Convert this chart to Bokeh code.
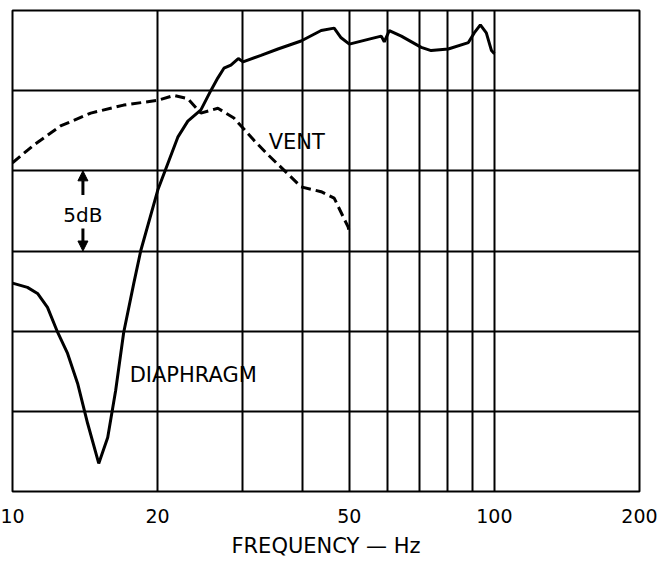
from bokeh.plotting import figure
from bokeh.models import Range1d, FixedTicker, Arrow, NormalHead
from bokeh.core.properties import value
from bokeh.embed import file_html
from bokeh.resources import INLINE

# ---- data ----
diaphragm_f = [10.0, 10.74, 11.27, 11.82, 12.41, 13.01, 13.65, 14.32, 15.1, 15.76, 16.37, 17.01,
               17.85, 18.46, 20.02, 22.03, 23.11, 24.6, 25.79, 26.68, 27.46, 28.39, 29.41, 30.08,
               32.78, 35.55, 39.7, 43.7, 46.5, 48.07, 50.0, 54.7, 58.24, 59.08, 60.51, 64.09,
               70.5, 73.9, 80.2, 88.3, 90.8, 93.5, 96.2, 98.6, 100.0]
diaphragm_db = [13.0, 12.73, 12.35, 11.48, 9.92, 8.61, 6.74, 4.24, 1.75, 3.37, 6.3, 9.92,
                12.98, 15.03, 18.8, 22.1, 23.1, 23.8, 25.0, 25.8, 26.4, 26.6, 27.0, 26.8,
                27.2, 27.6, 28.1, 28.75, 28.9, 28.3, 27.9, 28.2, 28.4, 28.05, 28.75, 28.4,
                27.7, 27.5, 27.6, 28.0, 28.6, 29.1, 28.6, 27.5, 27.3]

vent_f = [10.0, 11.06, 12.58, 14.53, 17.01, 20.02, 21.61, 23.11, 24.6, 26.68, 28.8,
          31.7, 33.9, 37.3, 39.7, 43.7, 46.5, 49.7, 50.0]
vent_db = [20.5, 21.6, 22.8, 23.6, 24.1, 24.4, 24.7, 24.5, 23.6, 23.9, 23.3,
           21.9, 21.0, 19.8, 19.0, 18.7, 18.3, 16.5, 16.2]

x_grid = [10, 20, 30, 40, 50, 60, 70, 80, 90, 100, 200]
y_grid = [0, 5, 10, 15, 20, 25, 30]
x_tick_labels = {10: "10", 20: "20", 50: "50", 100: "100", 200: "200"}

FONT = "DejaVu Sans"

p = figure(frame_width=627, frame_height=481, x_axis_type="log",
           x_range=Range1d(10, 200), y_range=Range1d(0, 30),
           output_backend="svg", toolbar_location=None, y_axis_location=None,
           min_border_left=12, min_border_top=10, min_border_right=23, min_border_bottom=70)
p.background_fill_color = "white"
p.border_fill_color = "white"
p.outline_line_color = "black"
p.outline_line_width = 2

p.xgrid.ticker = FixedTicker(ticks=x_grid)
p.ygrid.ticker = FixedTicker(ticks=y_grid)
for g in (p.xgrid, p.ygrid):
    g.grid_line_color = "black"
    g.grid_line_width = 2
    g.grid_line_alpha = 1.0

ax = p.xaxis[0]
ax.ticker = FixedTicker(ticks=list(x_tick_labels.keys()))
ax.major_label_overrides = {k: v for k, v in x_tick_labels.items()}
ax.axis_line_color = None
ax.major_tick_line_color = None
ax.minor_tick_line_color = None
ax.major_tick_in = 0
ax.major_tick_out = 0
ax.minor_tick_out = 0
ax.major_label_standoff = 17
ax.major_label_text_font = FONT
ax.major_label_text_font_size = "19px"
ax.major_label_text_color = "black"
ax.axis_label = "FREQUENCY — Hz"
ax.axis_label_text_font = FONT
ax.axis_label_text_font_size = "21px"
ax.axis_label_text_font_style = "normal"
ax.axis_label_text_color = "black"
ax.axis_label_standoff = 8

p.line(vent_f, vent_db, line_color="black", line_width=3, line_dash="10 5")
p.line(diaphragm_f, diaphragm_db, line_color="black", line_width=3)

p.text(x=[34.0], y=[21.8], text=["VENT"], text_align="left", text_baseline="middle",
       text_font=value(FONT), text_font_size="21px", text_color="black")
p.text(x=[17.5], y=[7.24], text=["DIAPHRAGM"], text_align="left", text_baseline="middle",
       text_font=value(FONT), text_font_size="21px", text_color="black")
p.text(x=[14.0], y=[17.25], text=["5dB"], text_align="center", text_baseline="middle",
       text_font=value(FONT), text_font_size="20px", text_color="black")

p.add_layout(Arrow(end=NormalHead(size=10, fill_color="black", line_color="black"),
                   x_start=14.0, y_start=18.5, x_end=14.0, y_end=20.0,
                   line_width=3, line_color="black"))
p.add_layout(Arrow(end=NormalHead(size=10, fill_color="black", line_color="black"),
                   x_start=14.0, y_start=16.4, x_end=14.0, y_end=15.0,
                   line_width=3, line_color="black"))

open("out.html", "w").write(file_html(p, INLINE))
